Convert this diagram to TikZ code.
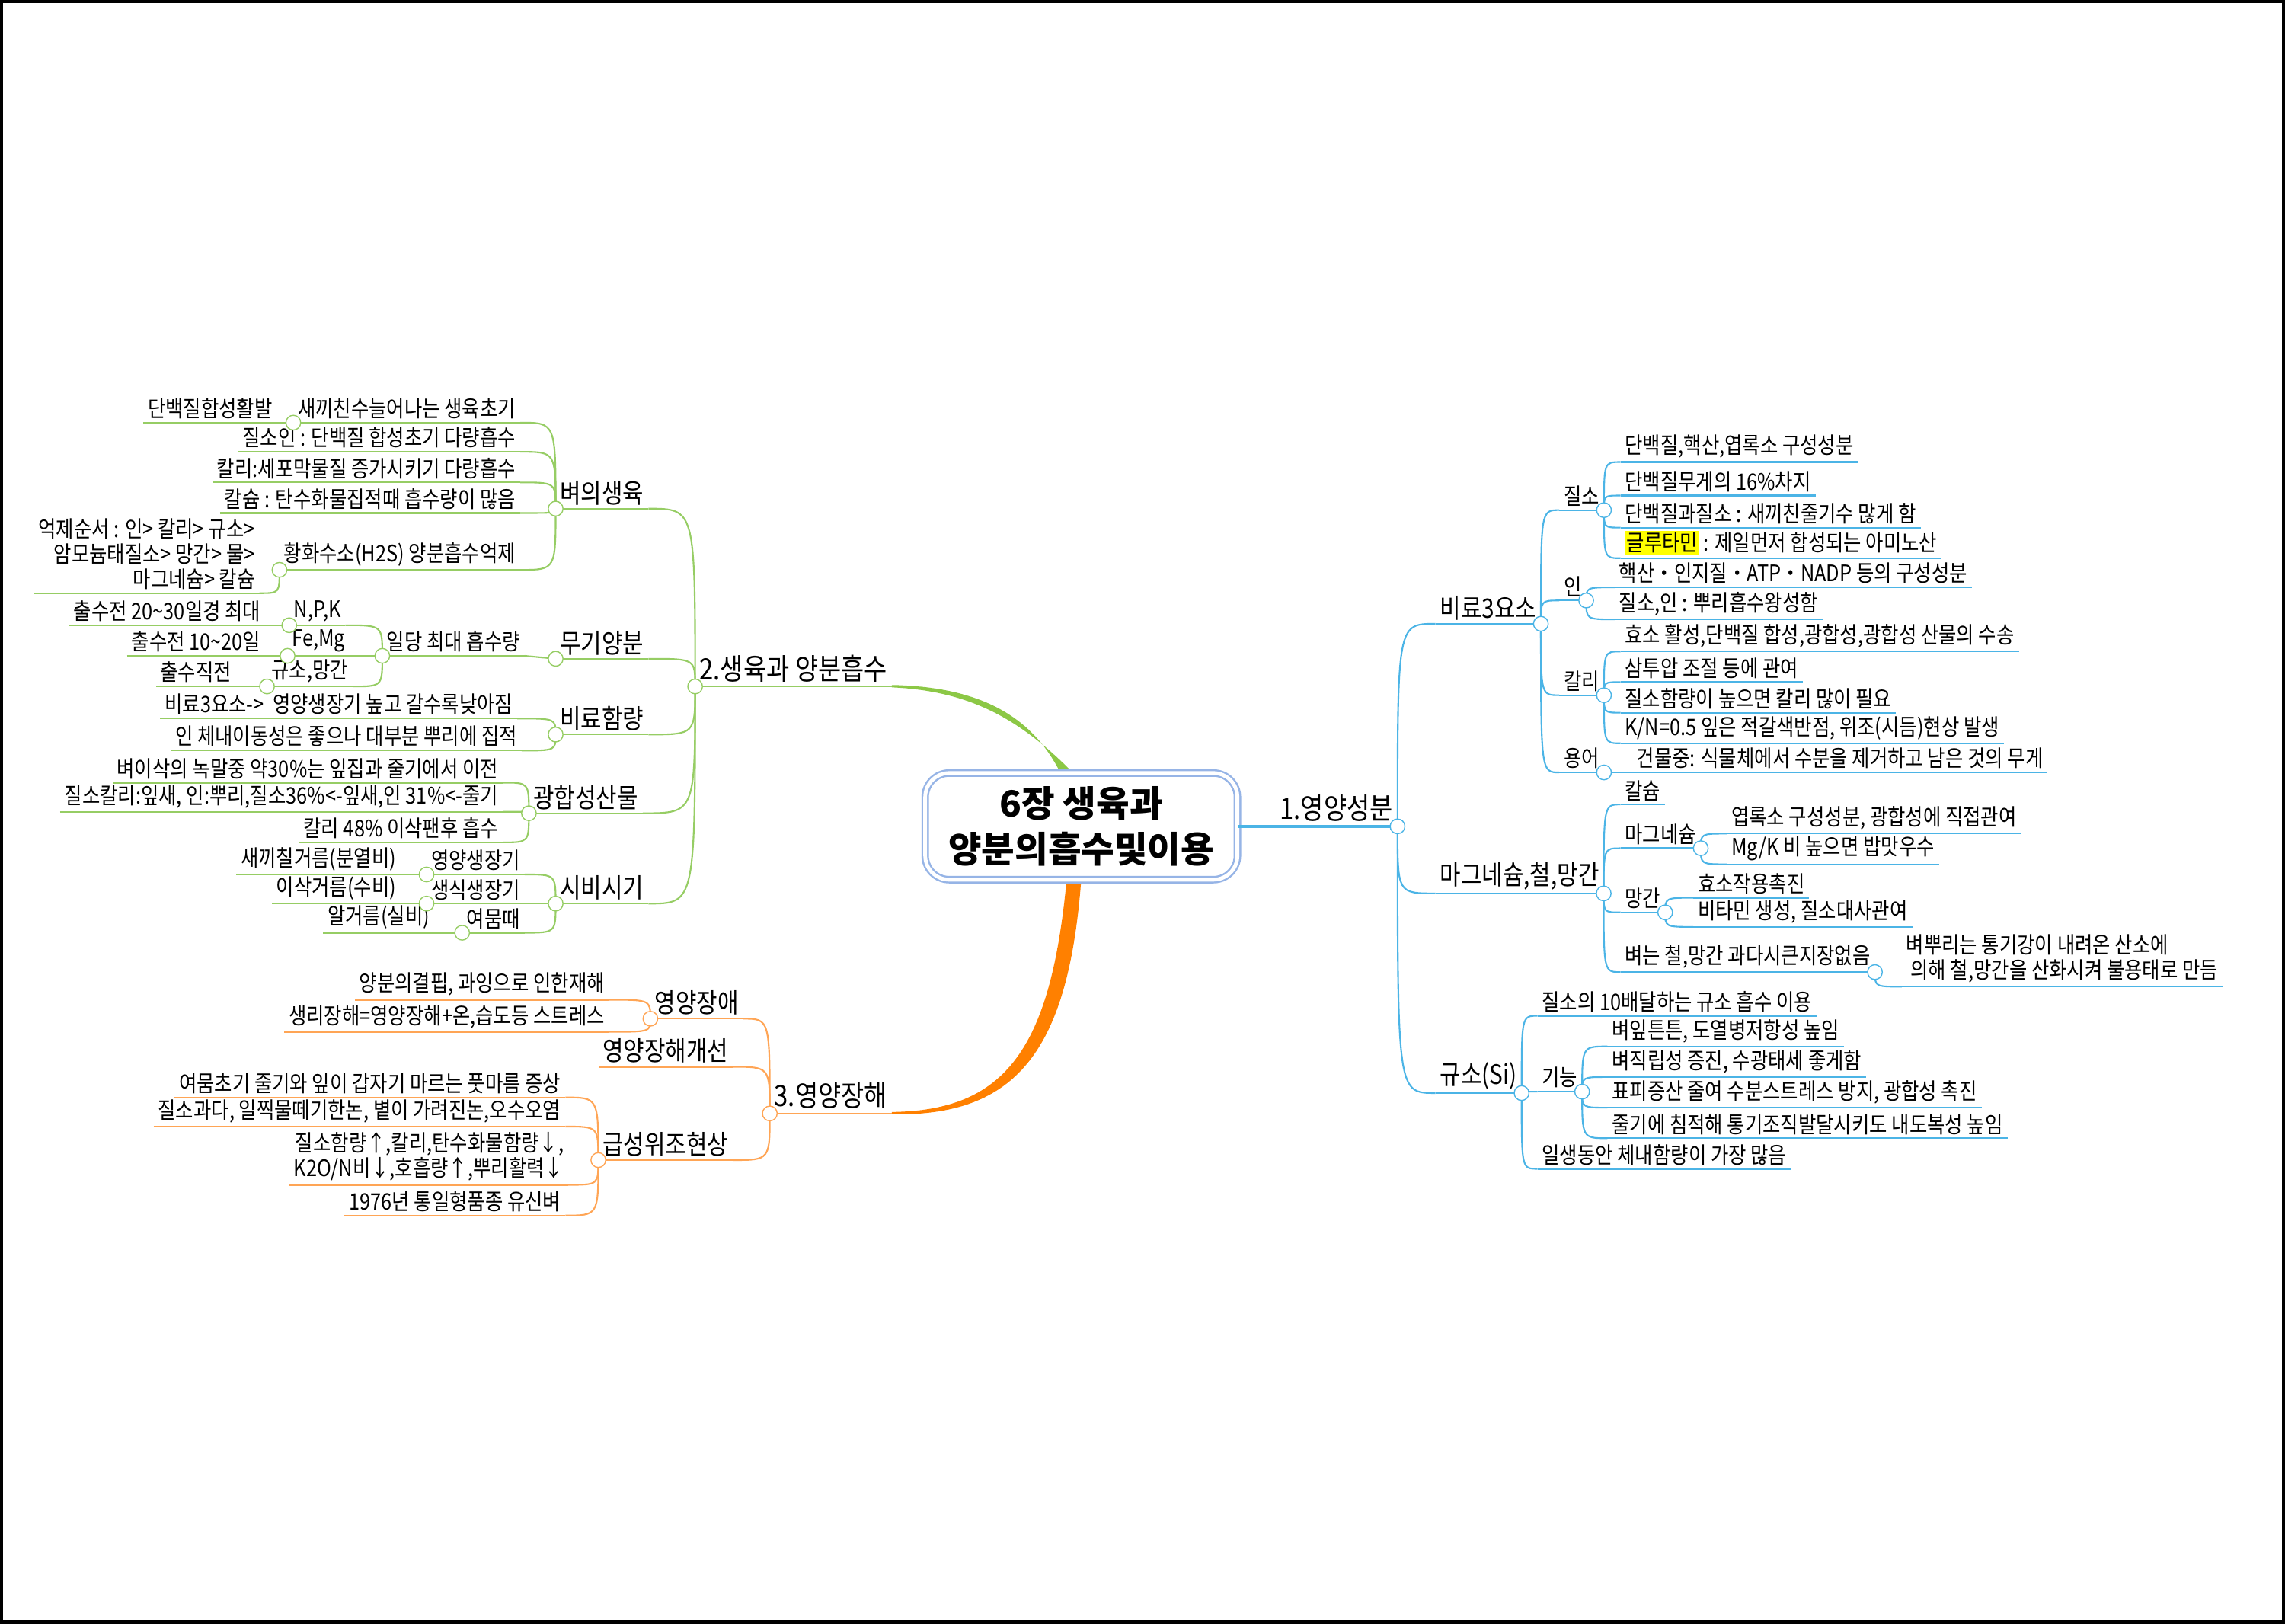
\documentclass[tikz,border=0pt]{standalone}
\usepackage{fontspec}
\usepackage{xcolor}
\usetikzlibrary{positioning,calc}
\newfontfamily\kr[FakeStretch=0.85]{Noto Sans CJK KR}
\newfontfamily\krtitle{Noto Sans CJK KR}
\definecolor{mapblue}{RGB}{75,180,230}
\definecolor{mapgreen}{RGB}{150,205,100}
\definecolor{mapgreenmain}{RGB}{140,200,70}
\definecolor{maporange}{RGB}{255,165,85}
\definecolor{maporangemain}{RGB}{255,128,0}
\definecolor{rootline}{RGB}{150,180,230}
\definecolor{markyellow}{RGB}{255,255,0}

\begin{document}
\begin{tikzpicture}[
    x=0.01913cm, y=-0.01913cm,
    leaf/.style={font=\kr\fontsize{8.5pt}{9.4pt}\selectfont, inner xsep=1.5pt, inner ysep=1.2pt},
    branch/.style={font=\kr\fontsize{10pt}{11pt}\selectfont, inner xsep=1.5pt, inner ysep=1.2pt},
    topic/.style={font=\kr\fontsize{11pt}{12pt}\selectfont, inner xsep=1.5pt, inner ysep=1.5pt},
    rn/.style={anchor=south west},
    ln/.style={anchor=south east, align=right},
    junc/.style={circle, draw, fill=white, inner sep=0pt, minimum size=5.5pt, line width=0.4pt},
    root box/.style={draw=rootline, double=white, double distance=1.4pt, line width=0.7pt,
        rounded corners=9pt, minimum width=4.1cm, minimum height=1.4cm, align=center,
        font=\krtitle\bfseries\fontsize{13.5pt}{17pt}\selectfont}
]
\useasboundingbox (0,0) rectangle (1568,1114);
\fill[white] (0,0) rectangle (1568,1114);

% main branches
\fill[mapgreenmain] (728,531) .. controls (707,488) and (667,471) .. (612,470)
    -- (612,471.6) .. controls (664,474) and (699,492) .. (737,531) -- cycle;
\fill[maporangemain] (732,603) .. controls (721,720) and (690,762) .. (612,763)
    -- (612,764.6) .. controls (697,766) and (733,722) .. (742,603) -- cycle;

% Root
\node[root box] (root) at (742,567) {6장 생육과\\양분의흡수및이용};

% === 1. 영양성분 (right) ===
\node[topic, anchor=south east] (nutr) at (959,567) {1.영양성분};

\node[branch, rn] (b3) at (985,428) {비료3요소};
\node[leaf, rn] (nit) at (1070,350) {질소};
\node[leaf, rn] (n1) at (1112,317) {단백질,핵산,엽록소 구성성분};
\node[leaf, rn] (n2) at (1112,340) {단백질무게의 16\%차지};
\node[leaf, rn] (n3) at (1112,362) {단백질과질소 : 새끼친줄기수 많게 함};
\node[leaf, rn] (n4) at (1112,383) {{\setlength\fboxsep{0.6pt}\colorbox{markyellow}{글루타민}} : 제일먼저 합성되는 아미노산};
\node[leaf, rn] (phos) at (1070,412) {인};
\node[leaf, rn] (p1) at (1108,403) {핵산・인지질・ATP・NADP 등의 구성성분};
\node[leaf, rn] (p2) at (1108,425) {질소,인 : 뿌리흡수왕성함};
\node[leaf, rn] (pot) at (1070,477) {칼리};
\node[leaf, rn] (k1) at (1112,447) {효소 활성,단백질 합성,광합성,광합성 산물의 수송};
\node[leaf, rn] (k2) at (1112,468) {삼투압 조절 등에 관여};
\node[leaf, rn] (k3) at (1112,489) {질소함량이 높으면 칼리 많이 필요};
\node[leaf, rn] (k4) at (1112,510) {K/N=0.5 잎은 적갈색반점, 위조(시듬)현상 발생};
\node[leaf, rn] (term) at (1070,530) {용어};
\node[leaf, rn] (t1) at (1120,530) {건물중: 식물체에서 수분을 제거하고 남은 것의 무게};

\node[branch, rn] (mfm) at (985,613) {마그네슘,철,망간};
\node[leaf, rn] (ca) at (1112,552) {칼슘};
\node[leaf, rn] (mg) at (1112,582) {마그네슘};
\node[leaf, rn] (mg1) at (1185,572) {엽록소 구성성분, 광합성에 직접관여};
\node[leaf, rn] (mg2) at (1185,593) {Mg/K 비 높으면 밥맛우수};
\node[leaf, rn] (mn) at (1112,626) {망간};
\node[leaf, rn] (mn1) at (1162,616) {효소작용촉진};
\node[leaf, rn] (mn2) at (1162,636) {비타민 생성, 질소대사관여};
\node[leaf, rn] (fe) at (1112,667) {벼는 철,망간 과다시큰지장없음};
\node[leaf, rn, align=left] (fe1) at (1305,677) {벼뿌리는 통기강이 내려온 산소에\\\ 의해 철,망간을 산화시켜 불용태로 만듬};

\node[branch, rn] (si) at (985,750) {규소(Si)};
\node[leaf, rn] (si1) at (1055,697) {질소의 10배달하는 규소 흡수 이용};
\node[leaf, rn] (fn) at (1055,749) {기능};
\node[leaf, rn] (fn1) at (1103,718) {벼잎튼튼, 도열병저항성 높임};
\node[leaf, rn] (fn2) at (1103,739) {벼직립성 증진, 수광태세 좋게함};
\node[leaf, rn] (fn3) at (1103,760) {표피증산 줄여 수분스트레스 방지, 광합성 촉진};
\node[leaf, rn] (fn4) at (1103,781) {줄기에 침적해 통기조직발달시키도 내도복성 높임};
\node[leaf, rn] (si2) at (1055,802) {일생동안 체내함량이 가장 많음};

\begin{scope}[mapblue, line width=0.6pt]
\draw[line width=1pt] (root.east) -- (nutr.south east);
\foreach \c in {b3,mfm,si} \draw (nutr.south east) .. controls (nutr.south east |- \c.south west) .. (\c.south west);
\foreach \c in {nit,phos,pot,term} \draw (b3.south east) .. controls (b3.south east |- \c.south west) .. (\c.south west);
\foreach \c in {n1,n2,n3,n4} \draw (nit.south east) .. controls (nit.south east |- \c.south west) .. (\c.south west);
\foreach \c in {p1,p2} \draw (phos.south east) .. controls (phos.south east |- \c.south west) .. (\c.south west);
\foreach \c in {k1,k2,k3,k4} \draw (pot.south east) .. controls (pot.south east |- \c.south west) .. (\c.south west);
\draw (term.south east) -- (t1.south west);
\foreach \c in {ca,mg,mn,fe} \draw (mfm.south east) .. controls (mfm.south east |- \c.south west) .. (\c.south west);
\foreach \c in {mg1,mg2} \draw (mg.south east) .. controls (mg.south east |- \c.south west) .. (\c.south west);
\foreach \c in {mn1,mn2} \draw (mn.south east) .. controls (mn.south east |- \c.south west) .. (\c.south west);
\draw (fe.south east) .. controls (fe.south east |- fe1.south west) .. (fe1.south west);
\foreach \c in {si1,fn,si2} \draw (si.south east) .. controls (si.south east |- \c.south west) .. (\c.south west);
\foreach \c in {fn1,fn2,fn3,fn4} \draw (fn.south east) .. controls (fn.south east |- \c.south west) .. (\c.south west);
% underlines
\foreach \n in {b3,nit,n1,n2,n3,n4,phos,p1,p2,pot,k1,k2,k3,k4,term,t1,mfm,ca,mg,mg1,mg2,mn,mn1,mn2,fe,fe1,si,si1,fn,fn1,fn2,fn3,fn4,si2}
    \draw (\n.south west) -- (\n.south east);
\foreach \n in {nutr,b3,nit,phos,pot,term,mfm,mg,mn,fe,si,fn}
    \node[junc] at (\n.south east) {};
\end{scope}

% === 2. 생육과 양분흡수 (left) ===
\node[topic, ln] (grow) at (612,471) {2.생육과 양분흡수};

\node[branch, ln] (rice) at (445,349) {벼의생육};
\node[leaf, ln] (r1) at (357,290) {새끼친수늘어나는 생육초기};
\node[leaf, ln] (r1a) at (190,290) {단백질합성활발};
\node[leaf, ln] (r2) at (357,310) {질소인 : 단백질 합성초기 다량흡수};
\node[leaf, ln] (r3) at (357,331) {칼리:세포막물질 증가시키기 다량흡수};
\node[leaf, ln] (r4) at (357,352) {칼슘 : 탄수화물집적때 흡수량이 많음};
\node[leaf, ln] (r5) at (357,391) {황화수소(H2S) 양분흡수억제};
\node[leaf, ln] (r5a) at (178,407) {억제순서 : 인> 칼리> 규소>\\암모늄태질소> 망간> 물>\\마그네슘> 칼슘};

\node[branch, ln] (inorg) at (445,452) {무기양분};
\node[leaf, ln] (daily) at (360,450) {일당 최대 흡수량};
\node[leaf, ln] (npk) at (237,429) {N,P,K};
\node[leaf, ln] (npka) at (182,429) {출수전 20\textasciitilde30일경 최대};
\node[leaf, ln] (femg) at (240,450) {Fe,Mg};
\node[leaf, ln] (femga) at (182,450) {출수전 10\textasciitilde20일};
\node[leaf, ln] (simn) at (242,471) {규소,망간};
\node[leaf, ln] (simna) at (162,471) {출수직전};

\node[branch, ln] (fert) at (445,504) {비료함량};
\node[leaf, ln] (f1) at (355,493) {비료3요소->\ \ 영양생장기 높고 갈수록낮아짐};
\node[leaf, ln] (f2) at (358,515) {인 체내이동성은 좋으나 대부분 뿌리에 집적};

\node[branch, ln] (photo) at (441,558) {광합성산물};
\node[leaf, ln] (ph1) at (345,537) {벼이삭의 녹말중 약30\%는 잎집과 줄기에서 이전};
\node[leaf, ln] (ph2) at (345,557) {질소칼리:잎새,\ 인:뿌리,질소36\%<-잎새,인 31\%<-줄기};
\node[leaf, ln] (ph3) at (345,578) {칼리 48\% 이삭팬후 흡수};

\node[branch, ln] (time) at (445,620) {시비시기};
\node[leaf, ln] (tm1) at (360,600) {영양생장기};
\node[leaf, ln] (tm1a) at (275,600) {새끼칠거름(분열비)};
\node[leaf, ln] (tm2) at (360,620) {생식생장기};
\node[leaf, ln] (tm2a) at (275,620) {이삭거름(수비)};
\node[leaf, ln] (tm3) at (360,640) {여뭄때};
\node[leaf, ln] (tm3a) at (298,640) {알거름(실비)};

\begin{scope}[mapgreen, line width=0.6pt]
\foreach \c in {rice,inorg,fert,photo,time} \draw (grow.south west) .. controls (grow.south west |- \c.south east) .. (\c.south east);
\foreach \c in {r1,r2,r3,r4,r5} \draw (rice.south west) .. controls (rice.south west |- \c.south east) .. (\c.south east);
\draw (r1.south west) -- (r1a.south east);
\draw (r5.south west) .. controls (r5.south west |- r5a.south east) .. (r5a.south east);
\draw (inorg.south west) -- (daily.south east);
\foreach \c in {npk,femg,simn} \draw (daily.south west) .. controls (daily.south west |- \c.south east) .. (\c.south east);
\draw (npk.south west) -- (npka.south east);
\draw (femg.south west) -- (femga.south east);
\draw (simn.south west) -- (simna.south east);
\foreach \c in {f1,f2} \draw (fert.south west) .. controls (fert.south west |- \c.south east) .. (\c.south east);
\foreach \c in {ph1,ph2,ph3} \draw (photo.south west) .. controls (photo.south west |- \c.south east) .. (\c.south east);
\foreach \c in {tm1,tm2,tm3} \draw (time.south west) .. controls (time.south west |- \c.south east) .. (\c.south east);
\draw (tm1.south west) -- (tm1a.south east);
\draw (tm2.south west) -- (tm2a.south east);
\draw (tm3.south west) -- (tm3a.south east);
% underlines
\foreach \n in {grow,rice,r1,r1a,r2,r3,r4,r5,r5a,inorg,daily,npk,npka,femg,femga,simn,simna,fert,f1,f2,photo,ph1,ph2,ph3,time,tm1,tm1a,tm2,tm2a,tm3,tm3a}
    \draw (\n.south west) -- (\n.south east);
\foreach \n in {grow,rice,r1,r5,inorg,daily,npk,femg,simn,fert,photo,time,tm1,tm2,tm3}
    \node[junc] at (\n.south west) {};
\end{scope}

% === 3. 영양장해 (left, lower) ===
\node[topic, ln] (harm) at (612,764) {3.영양장해};

\node[branch, ln] (dis) at (510,699) {영양장애};
\node[leaf, ln] (d1) at (418,686) {양분의결핍, 과잉으로 인한재해};
\node[leaf, ln] (d2) at (418,708) {생리장해=영양장해+온,습도등 스트레스};
\node[branch, ln] (impr) at (503,732) {영양장해개선};
\node[branch, ln] (wilt) at (503,796) {급성위조현상};
\node[leaf, ln] (w1) at (388,753) {여뭄초기 줄기와 잎이 갑자기 마르는 풋마름 증상};
\node[leaf, ln] (w2) at (388,773) {질소과다, 일찍물떼기한논, 볕이 가려진논,오수오염};
\node[leaf, ln] (w3) at (390,813) {질소함량↑,칼리,탄수화물함량↓,\\K2O/N비↓,호흡량↑,뿌리활력↓};
\node[leaf, ln] (w4) at (388,834) {1976년 통일형품종 유신벼};

\begin{scope}[maporange, line width=0.6pt]
\foreach \c in {dis,impr,wilt} \draw (harm.south west) .. controls (harm.south west |- \c.south east) .. (\c.south east);
\foreach \c in {d1,d2} \draw (dis.south west) .. controls (dis.south west |- \c.south east) .. (\c.south east);
\foreach \c in {w1,w2,w3,w4} \draw (wilt.south west) .. controls (wilt.south west |- \c.south east) .. (\c.south east);
% underlines
\foreach \n in {harm,dis,d1,d2,impr,wilt,w1,w2,w3,w4}
    \draw (\n.south west) -- (\n.south east);
\foreach \n in {harm,dis,wilt}
    \node[junc] at (\n.south west) {};
\end{scope}

% Frame
\draw[line width=1.3pt] (1,1) rectangle (1567,1113);
\end{tikzpicture}
\end{document}
